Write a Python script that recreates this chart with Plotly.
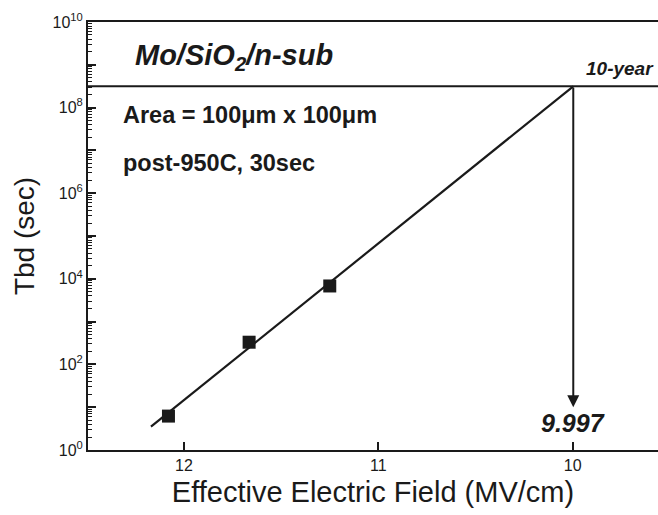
import numpy as np
import plotly.graph_objects as go

# Data
field = [12.08, 11.665, 11.25]          # MV/cm
tbd = [6.2, 330, 6800]                  # sec
fit_field = [12.17, 9.997]
fit_tbd = [3.5, 3.15e8]
ten_year = 3.15e8
target_field = 9.997
arrow_tip = 10

label_exps = [0, 2, 4, 6, 8, 10]
label_vals = [10 ** e for e in label_exps]
label_text = [f"10<sup>{e}</sup>" for e in label_exps]
odd_vals = [10 ** e for e in [1, 3, 5, 7, 9]]
minor_vals = [k * 10 ** e for e in range(0, 10) for k in range(2, 10)]

FONT = "Liberation Sans, Arial, sans-serif"
INK = "#1a1a1a"

fig = go.Figure()
fig.add_trace(go.Scatter(x=fit_field, y=fit_tbd, mode="lines",
                         line=dict(color=INK, width=2.2), showlegend=False))
fig.add_trace(go.Scatter(x=field, y=tbd, mode="markers",
                         marker=dict(symbol="square", size=13, color=INK),
                         showlegend=False))
# invisible traces for extra tick axes
fig.add_trace(go.Scatter(x=[10], y=[10], yaxis="y2", mode="markers",
                         marker=dict(opacity=0), showlegend=False, hoverinfo="skip"))
fig.add_trace(go.Scatter(x=[10], y=[10], yaxis="y3", mode="markers",
                         marker=dict(opacity=0), showlegend=False, hoverinfo="skip"))

fig.add_shape(type="line", xref="paper", yref="y", x0=0, x1=1,
              y0=ten_year, y1=ten_year, line=dict(color=INK, width=2))

fig.add_annotation(x=target_field, y=np.log10(arrow_tip), ax=target_field,
                   ay=np.log10(ten_year), xref="x", yref="y", axref="x", ayref="y",
                   showarrow=True, arrowhead=2, arrowsize=1.2, arrowwidth=2,
                   arrowcolor=INK, text="")

fig.add_annotation(x=target_field, y=0.063, xref="x", yref="paper",
                   text="<b><i>9.997</i></b>", showarrow=False, yanchor="middle",
                   font=dict(family=FONT, size=25, color=INK))
fig.add_annotation(x=1.0, y=0.8925, xref="paper", yref="paper", xshift=-2,
                   text="<b><i>10-year</i></b>", showarrow=False, xanchor="right",
                   yanchor="middle", font=dict(family=FONT, size=19, color=INK))
fig.add_annotation(x=0.079, y=0.918, xref="paper", yref="paper",
                   text="<b><i>Mo/SiO<sub>2</sub>/n-sub</i></b>", showarrow=False,
                   xanchor="left", yanchor="middle",
                   font=dict(family=FONT, size=29, color=INK))
fig.add_annotation(x=0.058, y=0.783, xref="paper", yref="paper",
                   text="<b>Area = 100μm x 100μm</b>", showarrow=False,
                   xanchor="left", yanchor="middle",
                   font=dict(family=FONT, size=23.5, color=INK))
fig.add_annotation(x=0.058, y=0.671, xref="paper", yref="paper",
                   text="<b>post-950C, 30sec</b>", showarrow=False,
                   xanchor="left", yanchor="middle",
                   font=dict(family=FONT, size=23.5, color=INK))

fig.update_layout(
    width=658, height=515,
    margin=dict(l=88, r=0, t=22, b=65),
    paper_bgcolor="white", plot_bgcolor="white",
    font=dict(family=FONT, color=INK),
    xaxis=dict(range=[12.494, 9.561], tickvals=[12, 11, 10], ticktext=["12", "11", "10"],
               ticks="inside", ticklen=8, tickwidth=1.5, tickcolor=INK,
               showline=True, linewidth=2, linecolor=INK, mirror=True,
               showgrid=False, zeroline=False,
               tickfont=dict(size=16, family=FONT, color=INK),
               title=dict(text="Effective Electric Field (MV/cm)", standoff=8,
                          font=dict(size=29, family=FONT, color=INK))),
    yaxis=dict(type="log", range=[0, 10], tickvals=label_vals, ticktext=label_text,
               ticks="inside", ticklen=8, tickwidth=1.5, tickcolor=INK,
               showline=True, linewidth=2, linecolor=INK,
               showgrid=False, zeroline=False,
               tickfont=dict(size=16, family=FONT, color=INK),
               title=dict(text="Tbd (sec)", standoff=10,
                          font=dict(size=28, family=FONT, color=INK))),
    yaxis2=dict(type="log", range=[0, 10], overlaying="y", side="left",
                tickvals=minor_vals, ticks="inside", ticklen=4, tickwidth=1,
                tickcolor=INK, showticklabels=False, showgrid=False,
                showline=False, zeroline=False),
    yaxis3=dict(type="log", range=[0, 10], overlaying="y", side="left",
                tickvals=odd_vals, ticks="inside", ticklen=8, tickwidth=1.5,
                tickcolor=INK, showticklabels=False, showgrid=False,
                showline=False, zeroline=False),
)

fig.write_html("out.html")
